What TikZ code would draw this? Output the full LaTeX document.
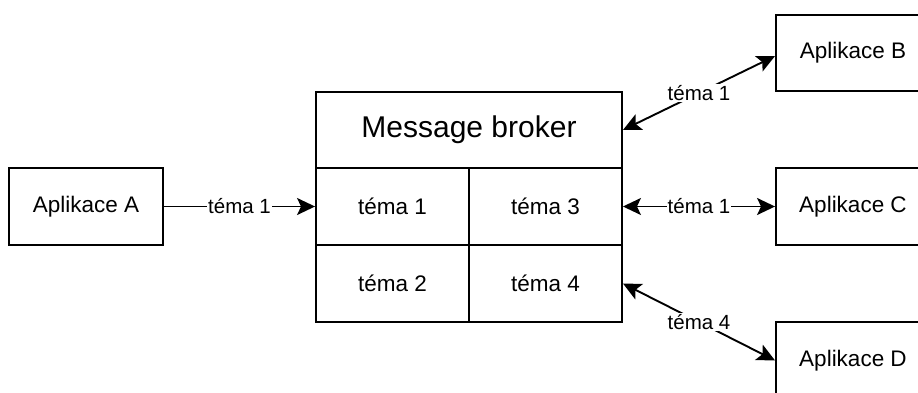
\documentclass[tikz,border=0pt]{standalone}
\usepackage{fontspec}
\setmainfont{Liberation Sans}
\usetikzlibrary{arrows.meta,calc}
\tikzset{
  box/.style={draw, line width=1.9pt, minimum width=154pt, minimum height=77pt, inner sep=0pt, font=\fontsize{22.5}{27}\selectfont},
  cell/.style={draw, line width=1.9pt, minimum width=153pt, minimum height=77pt, inner sep=0pt, font=\fontsize{22.5}{27}\selectfont},
  head/.style={draw, line width=1.9pt, minimum width=306pt, minimum height=76pt, inner sep=0pt, font=\fontsize{30}{36}\selectfont},
  conn/.style={line width=1.9pt, -{Stealth[length=18pt,width=17pt,inset=4pt]}},
  bconn/.style={line width=1.9pt, {Stealth[length=18pt,width=17pt,inset=4pt]}-{Stealth[length=18pt,width=17pt,inset=4pt]}},
  lbl/.style={fill=white, inner sep=1pt, font=\fontsize{20.5}{24}\selectfont}
}
\begin{document}
\begin{tikzpicture}[x=1pt,y=1pt]
\useasboundingbox (0,0) rectangle (918,392);
\node[box] (A) at (86,185.5) {Aplikace A};
\node[head] (H) at (469,262) {Message broker};
\node[cell] (t1) at (392.5,185.5) {téma 1};
\node[cell] (t3) at (545.5,185.5) {téma 3};
\node[cell] (t2) at (392.5,108.5) {téma 2};
\node[cell] (t4) at (545.5,108.5) {téma 4};
\node[box, minimum height=76pt] (B) at (853,339) {Aplikace B};
\node[box] (C) at (853,185.5) {Aplikace C};
\node[box] (D) at (853,31.5) {Aplikace D};
\draw[conn] (A.east) -- node[lbl] {téma 1} (t1.west);
\draw[bconn] (t3.east) -- node[lbl] {téma 1} (C.west);
\draw[bconn] (H.east) -- node[lbl] {téma 1} ($(B.west)+(0,-3)$);
\draw[bconn] (t4.east) -- node[lbl] {téma 4} (D.west);
\end{tikzpicture}
\end{document}
